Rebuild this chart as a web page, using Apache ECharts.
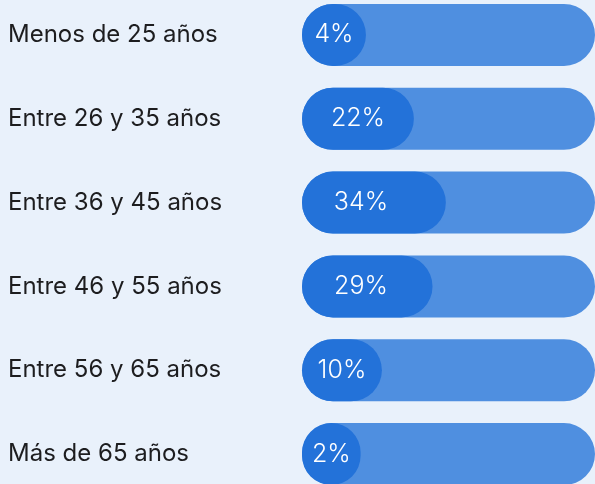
<!DOCTYPE html>
<html>
<head>
<meta charset="utf-8">
<script src="https://cdn.jsdelivr.net/npm/echarts@6/dist/echarts.min.js"></script>
<style>
  html, body { margin: 0; padding: 0; background: #e9f1fb; overflow: hidden; }
  #chart { position: absolute; left: 0; top: -7px; width: 595px; height: 503px; }
</style>
</head>
<body>
<div id="chart"></div>
<script>
const categories = [
  "Menos de 25 años",
  "Entre 26 y 35 años",
  "Entre 36 y 45 años",
  "Entre 46 y 55 años",
  "Entre 56 y 65 años",
  "Más de 65 años"
];
const values = [4, 22, 34, 29, 10, 2];

const chart = echarts.init(document.getElementById("chart"));

chart.setOption({
  backgroundColor: "#e9f1fb",
  animation: false,
  grid: { left: 302, right: 0, top: 0, bottom: 0 },
  xAxis: { type: "value", min: -20, max: 90, show: false },
  yAxis: {
    type: "category",
    data: categories,
    inverse: true,
    axisLine: { show: false },
    axisTick: { show: false },
    splitLine: { show: false },
    axisLabel: {
      align: "left",
      margin: 294,
      color: "#1d1d1f",
      fontFamily: "Inter",
      fontSize: 24
    }
  },
  series: [
    {
      type: "custom",
      encode: { x: 0, y: 1 },
      data: values.map(function (v, i) { return [v, i]; }),
      renderItem: function (params, api) {
        const cs = params.coordSys;
        const y = api.coord([0, api.value(1)])[1];
        const h = api.size([0, 1])[1] * 0.74;
        const x0 = cs.x;
        const w = api.coord([api.value(0), api.value(1)])[0] - x0;
        const labelW = Math.min(w, 118);
        return {
          type: "group",
          children: [
            {
              type: "rect",
              shape: { x: x0, y: y - h / 2, width: cs.width, height: h, r: h / 2 },
              style: { fill: "#4f8fe0" }
            },
            {
              type: "rect",
              shape: { x: x0, y: y - h / 2, width: w, height: h, r: h / 2 },
              style: { fill: "#2372d9" }
            },
            {
              type: "text",
              style: {
                x: x0 + labelW / 2,
                y: y,
                text: api.value(0) + "%",
                fill: "#ffffff",
                fontFamily: "Inter",
                fontWeight: 300,
                fontSize: 25,
                align: "center",
                verticalAlign: "middle"
              }
            }
          ]
        };
      }
    }
  ]
});
</script>
</body>
</html>
